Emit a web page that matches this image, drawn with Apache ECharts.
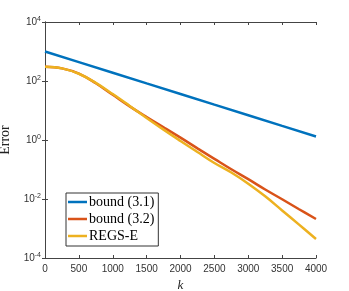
<!DOCTYPE html>
<html><head><meta charset="utf-8">
<script src="https://cdn.jsdelivr.net/npm/echarts@6/dist/echarts.min.js"></script>
<style>html,body{margin:0;padding:0;background:#fff}#c{width:349px;height:291px}</style>
</head><body><div id="c"></div>
<script>
const kValues = [0,250,500,750,1000,1250,1500,1750,2000,2250,2500,2750,3000,3250,3500,3750,4000];
const bound31K = [0,500,1000,1500,2000,2500,3000,3500,4000];
const bound31 = [1000,437,191,83,36.3,15.8,6.9,3.0,1.32];
const bound32 = [302,268,178,84,34,13.8,6.0,2.7,1.2,0.52,0.23,0.102,0.047,0.021,0.0098,0.0045,0.0021];
const regsE = [302,268,176,86,36,14.3,5.6,2.25,0.93,0.39,0.166,0.079,0.033,0.0123,0.0041,0.00135,0.00044];
const seriesNames = ['bound (3.1)','bound (3.2)','REGS-E'];
const colors = ['#0072BD','#D95319','#EDB120'];
const xTicks = [0,500,1000,1500,2000,2500,3000,3500,4000];

const chart = echarts.init(document.getElementById('c'));
const axisCol = '#444';
const supFmt = v => { const e = Math.round(Math.log10(v)); return '10{s|' + e + '}'; };
chart.setOption({
  animation:false,
  grid:{left:45,right:33,top:22,bottom:33,containLabel:false,outerBoundsMode:'none'},
  legend:{orient:'vertical',left:66,top:193,data:seriesNames,
    icon:'rect',itemWidth:19,itemHeight:2.5,itemGap:3,
    padding:[2,4,3,2],borderColor:'#333',borderWidth:1,backgroundColor:'#fff',
    textStyle:{fontFamily:'Liberation Serif',fontSize:14,color:'#000',padding:[0,0,0,-3]}},
  xAxis:[{type:'value',min:0,max:4000,interval:500,
    name:'k',nameLocation:'middle',nameGap:15,
    nameTextStyle:{fontFamily:'Liberation Serif',fontStyle:'italic',fontSize:13,color:'#222'},
    axisLine:{lineStyle:{color:axisCol}},
    axisTick:{inside:true,length:3,lineStyle:{color:axisCol}},
    axisLabel:{formatter:v=>String(v),fontFamily:'Liberation Sans',fontSize:10,color:'#333',margin:6},
    splitLine:{show:false}},
   {type:'value',position:'top',min:0,max:4000,interval:500,
    axisLine:{show:true,lineStyle:{color:axisCol}},
    axisTick:{inside:true,length:3,lineStyle:{color:axisCol}},
    axisLabel:{show:false},splitLine:{show:false}}],
  yAxis:[{type:'log',logBase:10,min:1e-4,max:1e4,interval:2,
    name:'Error',nameLocation:'middle',nameGap:18,
    nameTextStyle:{fontFamily:'Liberation Serif',fontSize:14,color:'#222'},
    axisLine:{show:true,lineStyle:{color:axisCol}},
    axisTick:{inside:true,length:3,lineStyle:{color:axisCol}},
    axisLabel:{formatter:supFmt,fontFamily:'Liberation Sans',fontSize:10,color:'#333',margin:4,
      rich:{s:{fontSize:7,verticalAlign:'top',padding:[0,0,6,0],fontFamily:'Liberation Sans',color:'#333'}}},
    splitLine:{show:false},minorTick:{show:false}},
   {type:'log',logBase:10,position:'right',min:1e-4,max:1e4,interval:2,
    axisLine:{show:true,lineStyle:{color:axisCol}},
    axisTick:{inside:true,length:3,lineStyle:{color:axisCol}},
    axisLabel:{show:false},splitLine:{show:false}}],
  series:[
    {name:seriesNames[0],type:'line',showSymbol:false,symbol:'none',
     data:bound31K.map((k,i)=>[k,bound31[i]]),lineStyle:{width:2.5,color:colors[0]},itemStyle:{color:colors[0]}},
    {name:seriesNames[1],type:'line',showSymbol:false,symbol:'none',smooth:0.4,
     data:kValues.map((k,i)=>[k,bound32[i]]),lineStyle:{width:2.5,color:colors[1]},itemStyle:{color:colors[1]}},
    {name:seriesNames[2],type:'line',showSymbol:false,symbol:'none',smooth:0.4,
     data:kValues.map((k,i)=>[k,regsE[i]]),lineStyle:{width:2.5,color:colors[2]},itemStyle:{color:colors[2]}}
  ]
});
</script></body></html>
